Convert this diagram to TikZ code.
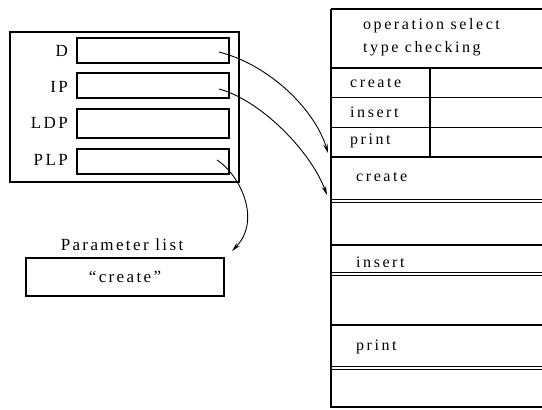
\documentclass[tikz,border=0pt]{standalone}
\usepackage{fontspec}
\usetikzlibrary{arrows.meta}
\newfontfamily\leftfont[LetterSpace=14]{Liberation Serif}
\newfontfamily\rightfont[LetterSpace=16]{Liberation Serif}
\begin{document}
\begin{tikzpicture}[x=1pt,y=-1pt,
  outer/.style={draw,line width=1.4pt,inner sep=0pt,minimum width=229pt,minimum height=150pt},
  reg/.style={draw,line width=1.1pt,inner sep=0pt,minimum width=152pt,minimum height=25pt},
  lbl/.style={font=\leftfont\fontsize{17}{19}\selectfont,anchor=base east,inner sep=0pt},
  rtxt/.style={font=\rightfont\fontsize{16}{18}\selectfont,anchor=west,inner sep=0pt},
  rline/.style={line width=1.2pt},
  thin/.style={line width=0.8pt},
  arr/.style={line width=0.9pt,-{Stealth[length=9pt,width=4.5pt]}}]
\useasboundingbox (0,0) rectangle (542,410);

% left register block
\node[outer] (frame) at (124.5,107) {};
\node[reg] (rD) at (153,50.5) {};
\node[reg] (rIP) at (153,85.5) {};
\node[reg,minimum height=29pt] (rLDP) at (153,123.5) {};
\node[reg] (rPLP) at (153,161.5) {};
\node[lbl] (tD) at (68,56) {D};
\node[lbl] (tIP) at (68,92) {IP};
\node[lbl] (tLDP) at (68,128) {LDP};
\node[lbl] (tPLP) at (68,165) {PLP};

% parameter list
\node[lbl,anchor=center] (plab) at (122,245) {Parameter list};
\node[draw,line width=1.3pt,inner sep=0pt,minimum width=198pt,minimum height=38pt,
      font=\leftfont\fontsize{17}{19}\selectfont] (plist) at (125,277) {“create”};

% right column
\draw[rline] (331,9) -- (542,9);
\draw[rline] (331,9) -- (331,407) -- (542,407);
\draw[rline] (331,68) -- (542,68);
\draw[thin] (331,97.5) -- (542,97.5);
\draw[thin] (331,127) -- (542,127);
\draw[rline] (331,157) -- (542,157);
\draw[rline] (430,68) -- (430,157);
\draw[thin] (331,199) -- (542,199);
\draw[thin] (331,202.5) -- (542,202.5);
\draw[rline] (331,245) -- (542,245);
\draw[thin] (331,272) -- (542,272);
\draw[thin] (331,275.5) -- (542,275.5);
\draw[rline] (331,325) -- (542,325);
\draw[thin] (331,366) -- (542,366);
\draw[thin] (331,369.5) -- (542,369.5);

\node[rtxt] (op1) at (363,26) {operation select};
\node[rtxt] (op2) at (363,49) {type checking};
\node[rtxt] (c1) at (350,83) {create};
\node[rtxt] (i1) at (350,112) {insert};
\node[rtxt] (p1) at (350,141) {print};
\node[rtxt] (c2) at (356,177) {create};
\node[rtxt] (i2) at (356,262) {insert};
\node[rtxt] (p2) at (356,347) {print};

% connectors
\coordinate (sD) at (219,52);
\coordinate (sIP) at (219,89);
\coordinate (sPLP) at (217,160);
\coordinate (eD) at (328,153);
\coordinate (eIP) at (327,195);
\coordinate (ePLP) at (232,251);
\draw[arr] (sD) .. controls (270,65) and (315,110) .. (eD);
\draw[arr] (sIP) .. controls (260,100) and (310,150) .. (eIP);
\draw[arr] (sPLP) .. controls (240,175) and (262,220) .. (ePLP);
\end{tikzpicture}
\end{document}
